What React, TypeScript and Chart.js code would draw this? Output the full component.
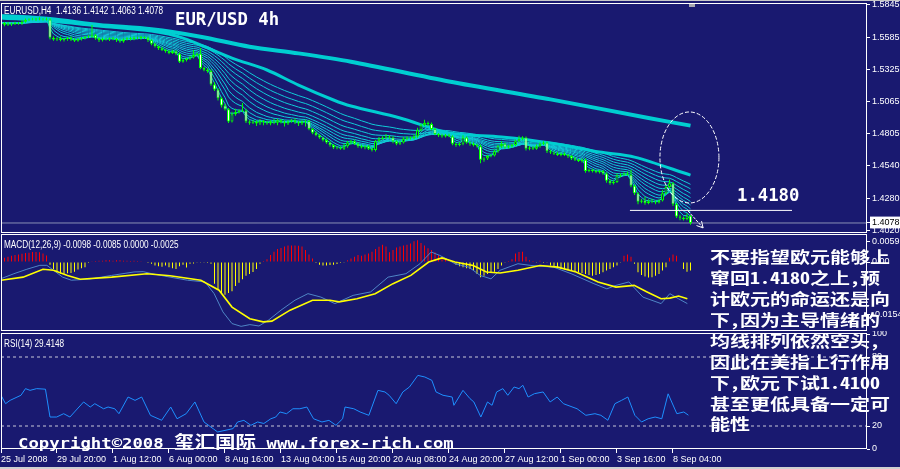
import React, { useEffect, useRef } from 'react';
import { Chart, registerables } from 'chart.js';

Chart.register(...registerables);

const BG = '#191970';
const X_MAX = 247.43;

// ---------- axis ticks / labels ----------
const xLabels = ['25 Jul 2008', '29 Jul 20:00', '1 Aug 12:00', '6 Aug 00:00', '8 Aug 16:00', '13 Aug 04:00', '15 Aug 20:00', '20 Aug 08:00', '24 Aug 20:00', '27 Aug 12:00', '1 Sep 00:00', '3 Sep 16:00', '8 Sep 04:00'];
const xLabelBars = [0, 16, 32, 48, 64, 80, 96, 112, 128, 144, 160, 176, 192];
const priceTicks = [1.5845, 1.5585, 1.5325, 1.5065, 1.4805, 1.454, 1.428, 1.402];
const lastPrice = 1.4078;
const macdTicks = [0.0059, 0, -0.0154];
const rsiTicks = [100, 80, 20, 0];
const rsiLevels = [80, 20];

// ---------- EURUSD H4 candles (prices in pips, x 1e-4) ----------
const firstOpen = 15690;
const closes = [
  15700, 15685, 15695, 15690, 15700, 15695, 15710, 15725, 15730, 15728, 15735, 15730, 15732, 15728,
  15580, 15565, 15575, 15560, 15570, 15580, 15565, 15555, 15570, 15575, 15585, 15590,
  15600, 15575, 15560, 15570, 15565, 15575, 15570, 15560, 15550, 15565, 15575, 15570, 15580, 15575, 15585, 15580, 15560,
  15530, 15510, 15495, 15480, 15470, 15455, 15470, 15450, 15385, 15400, 15410, 15420, 15440, 15450,
  15335, 15320, 15310, 15200, 15160, 15090, 15030, 15000, 14900, 14960, 14975, 14985, 14990,
  14900, 14890, 14900, 14885, 14905, 14895, 14885, 14900, 14890, 14910, 14895, 14885, 14900, 14910, 14895, 14885, 14900, 14905,
  14840, 14810, 14790, 14770, 14750, 14730, 14710, 14690, 14685, 14680, 14700, 14730, 14740, 14720, 14700, 14690, 14700, 14680, 14670,
  14740, 14760, 14770, 14780, 14770, 14740, 14720, 14730, 14760, 14770, 14765, 14780, 14830, 14870, 14890, 14880, 14840, 14800, 14790, 14780, 14790, 14780,
  14720, 14710, 14720, 14770, 14730, 14720, 14710, 14700, 14590, 14600, 14620, 14625, 14660, 14700, 14720, 14690, 14700, 14710, 14740, 14760, 14770,
  14680, 14690, 14680, 14700, 14720, 14730, 14660, 14650, 14640, 14630, 14640, 14630, 14620, 14600, 14590, 14580, 14590, 14500, 14510, 14500, 14490, 14500, 14480,
  14420, 14400, 14410, 14460, 14470, 14480, 14470, 14380, 14320, 14250, 14260, 14240, 14255, 14250, 14245, 14260, 14320, 14370, 14400, 14230, 14130, 14120, 14110, 14136, 14078,
];
const upperWick = [
  10, 8, 12, 6, 10, 8, 15, 10, 8, 12, 6, 10, 8, 12,
  10, 12, 8, 15, 10, 8, 12, 10, 6, 10, 8, 12,
  83, 10, 8, 12, 10, 6, 10, 8, 12, 10, 8, 10, 12, 8, 10, 6, 10,
  8, 10, 6, 12, 8, 10, 12, 8, 10, 12, 8, 12, 40, 10,
  46, 10, 12, 15, 20, 10, 12, 15, 10, 20, 30, 15, 60,
  15, 10, 12, 10, 15, 8, 12, 10, 20, 12, 10, 15, 12, 10, 18, 12, 10, 12,
  10, 8, 12, 10, 8, 12, 10, 8, 12, 15, 20, 12, 10, 15, 10, 12, 8, 10, 12,
  10, 15, 12, 20, 10, 12, 8, 10, 15, 12, 10, 15, 20, 15, 25, 10, 12, 10, 8, 12, 10, 12,
  10, 8, 12, 20, 10, 8, 12, 10, 15, 10, 12, 10, 15, 12, 20, 10, 12, 10, 15, 25, 12,
  10, 12, 10, 15, 12, 10, 8, 12, 10, 15, 10, 12, 8, 10, 12, 8, 10, 12, 10, 8, 12, 10, 8,
  10, 12, 15, 20, 12, 10, 15, 40, 10, 8, 12, 30, 15, 20, 12, 10, 25, 15, 30, 10, 12, 15, 10, 20, 6,
];
const lowerWick = [
  8, 12, 10, 15, 8, 10, 12, 8, 10, 6, 12, 8, 10, 8,
  15, 10, 12, 8, 10, 15, 12, 10, 8, 12, 10, 8,
  10, 12, 15, 10, 8, 12, 10, 15, 12, 10, 8, 12, 10, 8, 12, 10, 15,
  12, 10, 15, 8, 12, 10, 8, 12, 10, 8, 12, 10, 8, 12,
  10, 12, 15, 10, 12, 20, 15, 10, 12, 8, 12, 10, 8,
  12, 15, 10, 20, 12, 25, 10, 15, 12, 20, 10, 25, 12, 10, 15, 20, 12, 40,
  10, 12, 8, 10, 12, 10, 15, 12, 10, 8, 10, 12, 15, 10, 12, 8, 15, 10, 12,
  12, 10, 8, 12, 10, 15, 12, 10, 8, 12, 10, 8, 12, 10, 8, 15, 12, 10, 15, 12, 10, 8,
  12, 15, 10, 12, 10, 15, 12, 10, 27, 15, 12, 10, 8, 12, 15, 10, 8, 12, 10, 8, 12,
  15, 12, 10, 8, 12, 10, 15, 12, 10, 8, 12, 10, 15, 12, 10, 8, 12, 15, 10, 12, 8, 10, 12,
  15, 12, 10, 8, 12, 10, 8, 12, 15, 20, 12, 15, 10, 12, 15, 10, 8, 12, 10, 15, 12, 20, 12, 10, 15,
];

// long moving averages (bar index, price in pips)
const ma1Bars = [0, 14, 28, 43, 57, 71, 85, 100, 128, 157, 185, 197];
const ma1Vals = [15756, 15731, 15683, 15648, 15588, 15507, 15453, 15385, 15225, 15080, 14929, 14867];
const ma2Bars = [0, 14, 28, 43, 52, 66, 76, 85, 95, 100, 114, 128, 143, 157, 171, 181, 197];
const ma2Vals = [15740, 15715, 15675, 15634, 15577, 15415, 15318, 15196, 15075, 15026, 14929, 14807, 14775, 14726, 14653, 14612, 14466];
// short EMA ribbon periods
const ribbonPeriods = [3, 5, 8, 11, 15, 19, 24, 30, 37, 45];

// annotation on the price pane
const supportLevel = 1.418;
const supportFromBar = 179.7;
const supportToBar = 226;
const ellipseBar = 196.7;
const ellipsePrice = 1.4609;
const ellipseHalfBars = 8.43;
const ellipseHalfPrice = 0.0369;
const arrowFrom = [196.3, 1.4176];
const arrowTo = [200.6, 1.4038];

// ---------- MACD (12,26,9) ----------
const macdHist = [
  10, 12, 15, 18, 20, 22, 24, 26, 27, 29, 29, 28, 25, 19,
  -8, -20, -30, -34, -34, -33, -32, -28, -22, -18, -15,
  -3, 2, 3, 4, 4, 5, 5, 4, 5, 5, 4, 4, 3, 4, 3, 2, 0, -3, -5,
  -10, -12, -14, -10, -15, -18, -20, -12, -8, -16, -5, -4, -2,
  -2, -1, -3, -5,
  -63, -80, -92, -95, -90, -85, -70, -60, -50, -40, -35, -29, -20,
  -5, 3, 8,
  20, 30, 38, 41, 45, 48, 48, 48, 47, 45, 35, 22, 10,
  -3, -8, -10, -10, -9, -8, -6, -3, -2,
  5, 10, 15, 20, 18, 22, 25, 30, 38, 44, 50, 45,
  28,
  35, 42, 45, 48, 50, 54, 60, 63, 55, 48, 40, 35, 28,
  20, 15, 10, 5, 2,
  -8, -12, -15, -18, -20, -25, -35, -44, -40, -35, -30, -28, -20, -10,
  -2, 3, 8,
  25, 29, 30, 15,
  5, 3, -2, 4, -3, -1,
  -10, -15, -18, -20, -22, -24, -26, -28, -30, -32, -35, -38, -40, -38, -35, -30, -25, -20, -15, -10,
  -2,
  18, 22, 15,
  -5,
  -30, -38, -42, -45, -44, -40, -35, -25, -15,
  12, 22, 18,
  0,
  -20, -28, -25,
]; // x 0.0001
const macdLineBars = [0, 3.7, 7.4, 11.1, 13.1, 15, 17.6, 20.1, 25.1, 31.6, 38, 40.6, 43.1, 48.3, 53.3, 58.3, 60.9, 63.4, 66, 68.6, 71.1, 73.7, 76.3, 80, 84, 87.7, 91.4, 95.4, 100.6, 105.6, 110.6, 115.7, 119.7, 122.9, 125.4, 127.1, 129.7, 133.7, 136.9, 140, 142.6, 147.7, 151.4, 157.9, 162.9, 169.4, 173.1, 175.7, 179.4, 183.4, 188.6, 191.1, 193.6, 196.1];
const macdLineVals = [-0.00485, -0.0034, -0.0021, -0.00097, -0.00097, -0.0024, -0.0044, -0.0053, -0.005, -0.0039, -0.0029, -0.0028, -0.0034, -0.0044, -0.0053, -0.0058, -0.0092, -0.0145, -0.0179, -0.0187, -0.0182, -0.0186, -0.017, -0.014, -0.0111, -0.0092, -0.0102, -0.0121, -0.0097, -0.0087, -0.0044, -0.0034, -0.0005, 0.0029, 0.0019, 0.001, -0.0005, -0.0015, -0.0039, -0.0049, -0.0024, -0.0005, -0.001, -0.0015, -0.0034, -0.0063, -0.0078, -0.0068, -0.0058, -0.0102, -0.0121, -0.0092, -0.0107, -0.0121];
const macdSignalBars = [0, 6.3, 12, 15, 19, 22.6, 31.6, 41.7, 48.3, 57.1, 62.3, 66, 71.1, 74.9, 77.4, 82.6, 89, 94, 96.6, 101.7, 106.9, 112, 117.1, 122.2, 126, 129.7, 134.9, 138.7, 142.6, 147.7, 154, 159.1, 164.3, 170.6, 175.7, 180.9, 184.6, 188.6, 191.1, 193.6, 196.1];
const macdSignalVals = [-0.0053, -0.0044, -0.0021, -0.0024, -0.0039, -0.005, -0.0044, -0.0034, -0.004, -0.0053, -0.0082, -0.0131, -0.0165, -0.0174, -0.0172, -0.014, -0.0111, -0.0111, -0.0116, -0.0107, -0.0092, -0.0063, -0.0039, 0, 0.0012, 0, -0.001, -0.0029, -0.0032, -0.0024, -0.001, -0.0015, -0.0029, -0.0058, -0.0073, -0.0068, -0.0087, -0.0107, -0.0105, -0.0099, -0.0107];

// ---------- RSI(14) ----------
const rsiBars = [0, 1.3, 2.6, 5.7, 7, 8.3, 10.2, 12.7, 14, 15.9, 17.9, 19.7, 21, 23.6, 25.5, 26.8, 29.3, 30.6, 32.5, 33.7, 36.3, 38.3, 40.2, 42.7, 45.9, 48.5, 50.3, 52.9, 55.4, 58, 60.6, 61.9, 66.3, 67.6, 69.4, 71.4, 73.3, 75.1, 77.1, 78.5, 79.7, 81.6, 83.4, 85.4, 87.4, 89.3, 91.7, 93.7, 95.7, 97.6, 98.3, 100.8, 102.6, 105.1, 107.7, 109.7, 110.9, 112.9, 114.8, 116.7, 119.1, 121.1, 123.1, 124.3, 126.3, 128.9, 129.4, 132, 134, 135.1, 137.1, 139, 140.3, 141.6, 143.4, 144.8, 146.6, 148, 149.1, 150.6, 152.4, 154.9, 156.9, 158.9, 160.7, 164.6, 167.1, 169.7, 171.4, 173.4, 175.4, 177.3, 179.1, 181.1, 183, 184.9, 186.9, 188.8, 190.6, 193.1, 195.1, 196.4];
const rsiVals = [46.7, 39.4, 42.3, 46.7, 52.5, 51, 52.5, 52, 27.8, 27.8, 30.7, 27.8, 32.2, 40.9, 36.5, 39.4, 35, 36.5, 35, 30.7, 45.2, 42.3, 45.2, 29.3, 25, 36.5, 26.3, 30.7, 40.9, 23.5, 17.7, 14.8, 17.7, 23.5, 24.9, 20.6, 23.5, 22.2, 26.3, 27.8, 32.2, 30.7, 35, 35, 36.5, 26.3, 23.5, 24.9, 20.6, 26.3, 36.5, 35, 32.2, 29.3, 51, 49.6, 46.7, 39.4, 49.6, 53.9, 64, 62.6, 59.7, 49.6, 46.7, 45.2, 38, 51, 43.8, 40.9, 27.8, 40.9, 38, 49.6, 52.5, 46.7, 53.9, 52.5, 55.4, 45.2, 48.1, 49.6, 40.9, 45.2, 39.4, 35, 29.3, 30.7, 29.3, 25, 39.4, 42.3, 45.2, 29.3, 23.5, 26.3, 27.8, 26.3, 48, 30.7, 32.2, 29.4];

// ---------- texts ----------
const symbolHeader = 'EURUSD,H4  1.4136 1.4142 1.4063 1.4078';
const macdHeader = 'MACD(12,26,9) -0.0098 -0.0085 0.0000 -0.0025';
const rsiHeader = 'RSI(14) 29.4148';
const titleText = 'EUR/USD 4h';
const levelText = '1.4180';
const noteLines = ['不要指望欧元能够上', '窜回1.4180之上,预', '计欧元的命运还是向', '下,因为主导情绪的', '均线排列依然空头,', '因此在美指上行作用', '下,欧元下试1.4100', '甚至更低具备一定可', '能性'];

// ---------- helpers ----------
const pts = (xs: number[], ys: number[], k = 1) => xs.map((x, i) => ({ x, y: ys[i] * k }));
const ema = (vals: number[], p: number) => {
  const a = 2 / (p + 1);
  let e = vals[0];
  return vals.map((v) => (e = e + (v - e) * a));
};

Chart.defaults.font.family = "'Liberation Sans', Arial, sans-serif";
Chart.defaults.font.size = 9;
Chart.defaults.color = '#ffffff';

const framePlugin = {
  id: 'frame',
  afterDraw(chart: any) {
    const { ctx, chartArea: a } = chart;
    ctx.save();
    ctx.strokeStyle = '#ffffff';
    ctx.lineWidth = 1;
    ctx.strokeRect(a.left + 0.5, a.top + 0.5, a.right - a.left - 1, a.bottom - a.top - 1);
    ctx.restore();
  },
};

const notesPlugin = {
  id: 'notes',
  afterDatasetsDraw(chart: any) {
    const { ctx } = chart;
    const x = chart.scales.x;
    const y = chart.scales.y;
    ctx.save();
    ctx.strokeStyle = '#ffffff';
    ctx.lineWidth = 1;
    const cx = x.getPixelForValue(ellipseBar);
    const cy = y.getPixelForValue(ellipsePrice);
    const rx = x.getPixelForValue(ellipseBar + ellipseHalfBars) - cx;
    const ry = y.getPixelForValue(ellipsePrice - ellipseHalfPrice) - cy;
    ctx.setLineDash([4, 2]);
    ctx.beginPath();
    ctx.ellipse(cx, cy, Math.abs(rx), Math.abs(ry), 0, 0, Math.PI * 2);
    ctx.stroke();
    ctx.setLineDash([3, 1]);
    const x1 = x.getPixelForValue(arrowFrom[0]);
    const y1 = y.getPixelForValue(arrowFrom[1]);
    const x2 = x.getPixelForValue(arrowTo[0]);
    const y2 = y.getPixelForValue(arrowTo[1]);
    ctx.beginPath();
    ctx.moveTo(x1, y1);
    ctx.lineTo(x2, y2);
    ctx.stroke();
    ctx.setLineDash([]);
    const ang = Math.atan2(y2 - y1, x2 - x1);
    ctx.beginPath();
    ctx.moveTo(x2 - 7 * Math.cos(ang - 0.5), y2 - 7 * Math.sin(ang - 0.5));
    ctx.lineTo(x2, y2);
    ctx.lineTo(x2 - 7 * Math.cos(ang + 0.5), y2 - 7 * Math.sin(ang + 0.5));
    ctx.stroke();
    ctx.restore();
  },
};

const hiddenX = () => ({
  type: 'linear', min: 0, max: X_MAX, offset: false, display: false, grid: { offset: false },
});

const yAxis = (ticks: number[], min: number, max: number, fmt: (v: number) => string, hi?: number) => ({
  type: 'linear',
  position: 'right',
  min,
  max,
  grid: { display: true, drawOnChartArea: false, drawTicks: true, tickLength: 3, color: '#ffffff' },
  border: { display: false },
  ticks: {
    autoSkip: false,
    padding: 2,
    font: { size: 9 },
    color: (c: any) => (hi !== undefined && c.tick && c.tick.value === hi ? '#000000' : '#ffffff'),
    showLabelBackdrop: (c: any) => hi !== undefined && !!c.tick && c.tick.value === hi,
    backdropColor: '#ffffff',
    backdropPadding: { left: 2, right: 2, top: 1, bottom: 0 },
    callback: (v: any) => fmt(Number(v)),
  },
  afterBuildTicks: (s: any) => {
    const list = hi !== undefined ? [...ticks, hi] : ticks;
    s.ticks = list.map((v) => ({ value: v }));
  },
  afterFit: (s: any) => {
    s.width = 33;
    s.paddingTop = 0;
    s.paddingBottom = 0;
  },
});

const baseOptions = (pad: any) => ({
  responsive: false,
  animation: false,
  devicePixelRatio: 1,
  events: [],
  layout: { padding: pad, autoPadding: false },
  plugins: { legend: { display: false }, tooltip: { enabled: false } },
});

function mainConfig(): any {
  const opens = closes.map((c, i) => (i === 0 ? firstOpen : closes[i - 1]));
  const bodies = closes.map((c, i) => ({ x: i, y: [opens[i] / 1e4, c / 1e4] }));
  const wicks = closes.map((c, i) => ({
    x: i,
    y: [(Math.min(opens[i], c) - lowerWick[i]) / 1e4, (Math.max(opens[i], c) + upperWick[i]) / 1e4],
  }));
  const bodyFill = closes.map((c, i) => (c < opens[i] ? '#ffffff' : BG));
  const ribbons = ribbonPeriods.map((p) => ({
    type: 'line',
    data: ema(closes, p).map((v, i) => ({ x: i, y: v / 1e4 })),
    borderColor: '#10ccd8',
    borderWidth: 1,
    pointRadius: 0,
    tension: 0,
    order: 9,
  }));
  return {
    type: 'bar',
    data: {
      datasets: [
        { type: 'line', data: [{ x: 0, y: lastPrice }, { x: X_MAX, y: lastPrice }], borderColor: '#8a90b4', borderWidth: 1, pointRadius: 0, order: 12 },
        ...ribbons,
        { type: 'line', data: pts(ma2Bars, ma2Vals, 1e-4), borderColor: '#00ced1', borderWidth: 3, pointRadius: 0, tension: 0.3, order: 8 },
        { type: 'line', data: pts(ma1Bars, ma1Vals, 1e-4), borderColor: '#00ced1', borderWidth: 4, pointRadius: 0, tension: 0.3, order: 8 },
        { type: 'bar', data: wicks, backgroundColor: '#00ff00', borderWidth: 0, barThickness: 1, inflateAmount: 0, grouped: false, order: 3 },
        { type: 'bar', data: bodies, backgroundColor: bodyFill, borderColor: '#00ff00', borderWidth: 1, borderSkipped: false, barThickness: 3, inflateAmount: 0, grouped: false, order: 2 },
        { type: 'line', data: [{ x: supportFromBar, y: supportLevel }, { x: supportToBar, y: supportLevel }], borderColor: '#ffffff', borderWidth: 1, pointRadius: 0, order: 1 },
      ],
    },
    options: {
      ...baseOptions({ left: 1, top: 3, right: 0, bottom: 0 }),
      scales: {
        x: hiddenX(),
        y: yAxis(priceTicks, 1.399683, 1.586121, (v) => v.toFixed(4), lastPrice),
      },
    },
    plugins: [framePlugin, notesPlugin],
  };
}

function macdConfig(): any {
  const hist = macdHist.map((v, i) => ({ x: i, y: v / 1e4 }));
  return {
    type: 'bar',
    data: {
      datasets: [
        { type: 'bar', data: hist, backgroundColor: macdHist.map((v) => (v >= 0 ? '#ff0000' : '#ffff00')), borderWidth: 0, barThickness: 1, inflateAmount: 0, grouped: false, order: 5 },
        { type: 'line', data: pts(macdLineBars, macdLineVals), borderColor: '#4f86c6', borderWidth: 1, pointRadius: 0, tension: 0, order: 2 },
        { type: 'line', data: pts(macdSignalBars, macdSignalVals), borderColor: '#ffff00', borderWidth: 1.6, pointRadius: 0, tension: 0, order: 1 },
      ],
    },
    options: {
      ...baseOptions({ left: 1, top: 1, right: 0, bottom: 0 }),
      scales: {
        x: hiddenX(),
        y: yAxis(macdTicks, -0.020058, 0.00814, (v) => (v === 0 ? '0.00' : v.toFixed(4))),
      },
    },
    plugins: [framePlugin],
  };
}

function rsiConfig(): any {
  return {
    type: 'line',
    data: {
      datasets: [
        ...rsiLevels.map((lv) => ({ data: [{ x: 0, y: lv }, { x: X_MAX, y: lv }], borderColor: '#c8c8d8', borderWidth: 1, borderDash: [3, 3], pointRadius: 0, order: 5 })),
        { data: pts(rsiBars, rsiVals), borderColor: '#1e90ff', borderWidth: 1, pointRadius: 0, tension: 0, order: 1 },
      ],
    },
    options: {
      ...baseOptions({ left: 1, top: 2, right: 0, bottom: 0 }),
      scales: {
        x: {
          type: 'linear',
          min: 0,
          max: X_MAX,
          offset: false,
          position: 'bottom',
          grid: { drawOnChartArea: false, drawTicks: true, tickLength: 4, color: '#ffffff', offset: false },
          border: { display: false },
          ticks: {
            autoSkip: false,
            maxRotation: 0,
            align: 'start',
            padding: 1,
            font: { size: 9 },
            color: '#ffffff',
            callback: (_v: any, i: number) => xLabels[i] ?? '',
          },
          afterBuildTicks: (s: any) => {
            s.ticks = xLabelBars.map((v) => ({ value: v }));
          },
          afterFit: (s: any) => {
            s.height = 20;
            s.paddingLeft = 0;
            s.paddingRight = 0;
          },
        },
        y: yAxis(rsiTicks, 0, 100.87, (v) => String(v)),
      },
    },
    plugins: [framePlugin],
  };
}

const smallText: React.CSSProperties = {
  position: 'absolute',
  left: 4,
  color: '#ffffff',
  fontFamily: "'Liberation Sans', Arial, sans-serif",
  fontSize: 10,
  lineHeight: '12px',
  whiteSpace: 'pre',
  transform: 'scaleX(0.82)',
  transformOrigin: 'left top',
};
const monoBig: React.CSSProperties = {
  position: 'absolute',
  color: '#ffffff',
  fontFamily: "'DejaVu Sans Mono', 'Liberation Mono', monospace",
  fontWeight: 'bold',
  fontSize: 17.3,
  lineHeight: '20px',
  whiteSpace: 'pre',
};

export default function App() {
  const mainRef = useRef<HTMLCanvasElement>(null);
  const macdRef = useRef<HTMLCanvasElement>(null);
  const rsiRef = useRef<HTMLCanvasElement>(null);

  useEffect(() => {
    document.body.style.margin = '0';
    const charts = [
      new Chart(mainRef.current as HTMLCanvasElement, mainConfig()),
      new Chart(macdRef.current as HTMLCanvasElement, macdConfig()),
      new Chart(rsiRef.current as HTMLCanvasElement, rsiConfig()),
    ];
    return () => charts.forEach((c) => c.destroy());
  }, []);

  return (
    <div style={{ position: 'fixed', left: 0, top: 0, width: 900, height: 469, background: BG, overflow: 'hidden' }}>
      <div style={{ position: 'absolute', left: 0, top: 0, width: 900, height: 1, background: '#c8c8c8' }} />
      <canvas ref={mainRef} width={900} height={233} style={{ position: 'absolute', left: 0, top: 0 }} />
      <canvas ref={macdRef} width={900} height={98} style={{ position: 'absolute', left: 0, top: 233 }} />
      <canvas ref={rsiRef} width={900} height={138} style={{ position: 'absolute', left: 0, top: 331 }} />
      <div style={{ position: 'absolute', left: 689, top: 4, width: 6, height: 3, background: '#a8a8b0' }} />
      <div style={{ position: 'absolute', left: 0, top: 467, width: 900, height: 2, background: '#d0d0d0' }} />

      <div style={{ ...smallText, top: 5 }}>{symbolHeader}</div>
      <div style={{ ...smallText, top: 239 }}>{macdHeader}</div>
      <div style={{ ...smallText, top: 337.5 }}>{rsiHeader}</div>

      <div style={{ ...monoBig, left: 175, top: 9 }}>{titleText}</div>
      <div style={{ ...monoBig, left: 737, top: 185 }}>{levelText}</div>

      <div
        style={{
          position: 'absolute',
          left: 710,
          top: 246.5,
          color: '#ffffff',
          fontFamily: "'Noto Sans Mono CJK SC', 'Noto Sans CJK SC', sans-serif",
          fontWeight: 'bold',
          fontSize: 20,
          lineHeight: '26.8px',
          whiteSpace: 'pre',
          transform: 'scaleY(0.78)',
          transformOrigin: 'left top',
        }}
      >
        {noteLines.map((l, i) => (
          <div key={i}>{l}</div>
        ))}
      </div>

      <div
        style={{
          position: 'absolute',
          left: 18,
          top: 431.5,
          color: '#ffffff',
          fontWeight: 'bold',
          lineHeight: '20px',
          whiteSpace: 'pre',
          transform: 'scaleY(0.85)',
          transformOrigin: 'left top',
        }}
      >
        <span style={{ fontFamily: "'DejaVu Sans Mono', monospace", fontSize: 17.3 }}>{'Copyright©2008 '}</span>
        <span style={{ fontFamily: "'Noto Sans CJK SC', sans-serif", fontSize: 20.5 }}>{'玺汇国际'}</span>
        <span style={{ fontFamily: "'DejaVu Sans Mono', monospace", fontSize: 17.3 }}>{' www.forex-rich.com'}</span>
      </div>
    </div>
  );
}
